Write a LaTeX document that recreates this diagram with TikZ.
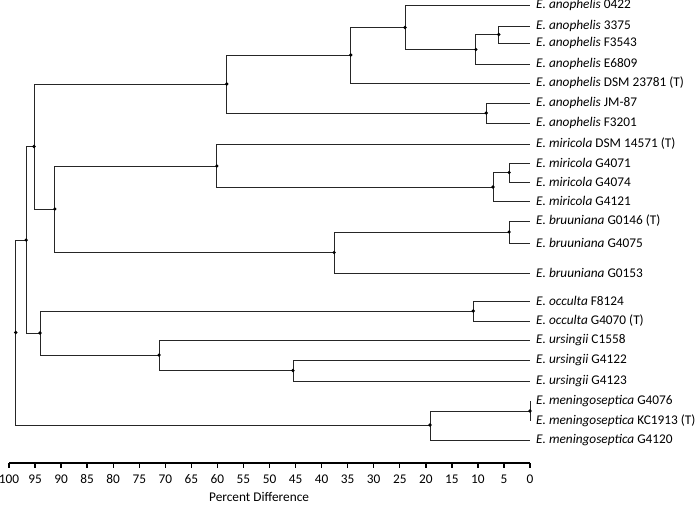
\documentclass[tikz,border=0pt]{standalone}
\usepackage{fontspec}
\setmainfont{Carlito}
\usepackage{tikz}
\usetikzlibrary{arrows.meta}

\begin{document}
\begin{tikzpicture}[x=-5.21pt,y=-1pt,font=\fontsize{13.3}{15}\selectfont,
br/.style={black!85,line width=0.9pt},
leaf/.style={anchor=west,inner xsep=6pt,inner ysep=0pt},
axis/.style={black,line width=1.6pt}]
\useasboundingbox (101.73,0) rectangle (-32.05,504);
\node[leaf](l1) at (0,5){\textit{E. anophelis} 0422};
\node[leaf](l2) at (0,26){\textit{E. anophelis} 3375};
\node[leaf](l3) at (0,43){\textit{E. anophelis} F3543};
\node[leaf](l4) at (0,64){\textit{E. anophelis} E6809};
\node[leaf](l5) at (0,83){\textit{E. anophelis} DSM 23781 (T)};
\node[leaf](l6) at (0,103){\textit{E. anophelis} JM-87};
\node[leaf](l7) at (0,123){\textit{E. anophelis} F3201};
\node[leaf](l8) at (0,144){\textit{E. miricola} DSM 14571 (T)};
\node[leaf](l9) at (0,163){\textit{E. miricola} G4071};
\node[leaf](l10) at (0,182){\textit{E. miricola} G4074};
\node[leaf](l11) at (0,201){\textit{E. miricola} G4121};
\node[leaf](l12) at (0,221){\textit{E. bruuniana} G0146 (T)};
\node[leaf](l13) at (0,243){\textit{E. bruuniana} G4075};
\node[leaf](l14) at (0,273){\textit{E. bruuniana} G0153};
\node[leaf](l15) at (0,301){\textit{E. occulta} F8124};
\node[leaf](l16) at (0,321){\textit{E. occulta} G4070 (T)};
\node[leaf](l17) at (0,340){\textit{E. ursingii} C1558};
\node[leaf](l18) at (0,360){\textit{E. ursingii} G4122};
\node[leaf](l19) at (0,381){\textit{E. ursingii} G4123};
\node[leaf](l20) at (0,401){\textit{E. meningoseptica} G4076};
\node[leaf](l21) at (0,421){\textit{E. meningoseptica} KC1913 (T)};
\node[leaf](l22) at (0,440){\textit{E. meningoseptica} G4120};
\coordinate (C) at (6,34.5);
\coordinate (B) at (10.4,49.5);
\coordinate (A) at (24,27.5);
\coordinate (D) at (34.4,55);
\coordinate (E) at (8.4,113);
\coordinate (F) at (58.2,84);
\coordinate (U) at (4,172.5);
\coordinate (T) at (7.1,187);
\coordinate (I) at (60.1,166);
\coordinate (V) at (4,232);
\coordinate (J) at (37.6,252.5);
\coordinate (H) at (91.2,209);
\coordinate (G) at (95.2,146.5);
\coordinate (O) at (10.9,311);
\coordinate (Q) at (45.5,370.5);
\coordinate (P) at (71.2,355);
\coordinate (N) at (94.05,333);
\coordinate (L) at (96.7,240);
\coordinate (S) at (0,411);
\coordinate (R) at (19.2,425);
\coordinate (M) at (98.7,332.5);
\draw[br](C)|-(l2.west) (C)|-(l3.west)
(B)|-(C) (B)|-(l4.west)
(A)|-(l1.west) (A)|-(B)
(D)|-(A) (D)|-(l5.west)
(E)|-(l6.west) (E)|-(l7.west)
(F)|-(D) (F)|-(E);
\draw[br](U)|-(l9.west) (U)|-(l10.west)
(T)|-(U) (T)|-(l11.west)
(I)|-(l8.west) (I)|-(T)
(V)|-(l12.west) (V)|-(l13.west)
(J)|-(V) (J)|-(l14.west)
(H)|-(I) (H)|-(J)
(G)|-(F) (G)|-(H);
\draw[br](O)|-(l15.west) (O)|-(l16.west)
(Q)|-(l18.west) (Q)|-(l19.west)
(P)|-(l17.west) (P)|-(Q)
(N)|-(O) (N)|-(P)
(L)|-(G) (L)|-(N);
\draw[br](S)|-(l20.west) (S)|-(l21.west)
(R)|-(S) (R)|-(l22.west)
(M)|-(L) (M)|-(R);
\foreach \n in {A,B,C,D,E,F,G,H,I,J,L,M,N,O,P,Q,R,S,T,U,V}
\fill (\n) circle (1.8pt);
\draw[axis](100,463)coordinate(a0)--(0,463)coordinate(a1);
\foreach \t in {0,5,...,100}{
\draw[line width=1.4pt](\t,463)--(\t,467.5);
\node (t\t) at (\t,479){\t};}
\node[inner sep=1pt] (xl) at (52,496.5){Percent Difference};
\end{tikzpicture}
\end{document}
